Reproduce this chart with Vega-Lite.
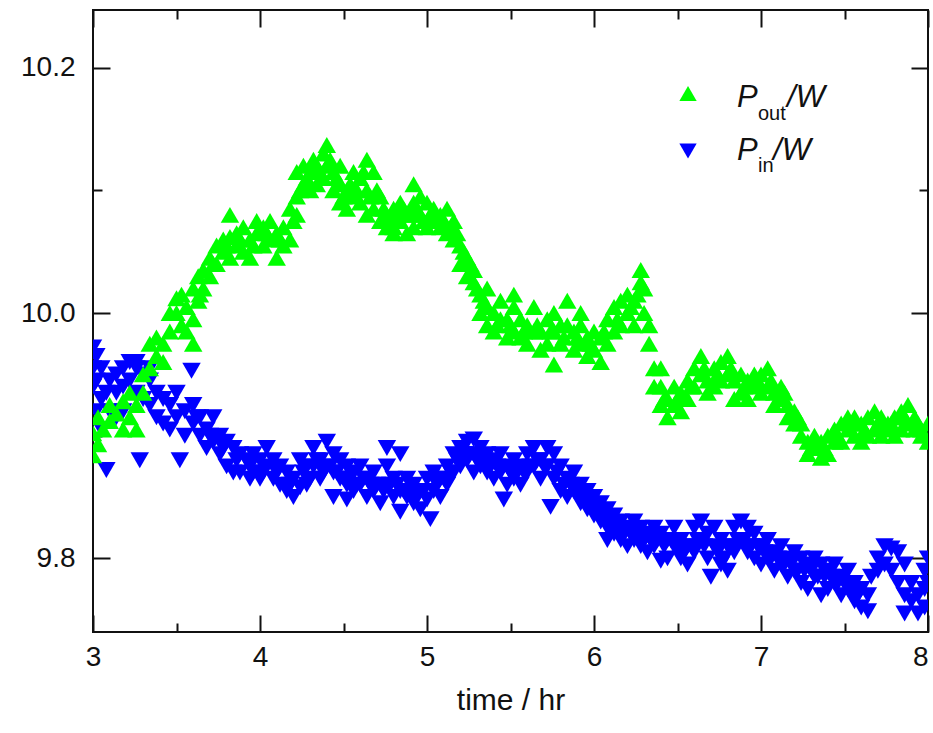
{
  "$schema": "https://vega.github.io/schema/vega-lite/v6.json",
  "width": 835,
  "height": 622,
  "autosize": {"type": "none"},
  "padding": {"left": 93, "top": 10, "right": 5, "bottom": 101},
  "background": "white",
  "config": {
    "view": {"stroke": "#111", "strokeWidth": 2},
    "axis": {"domain": false, "grid": false, "tickColor": "#111", "tickWidth": 2, "labelColor": "#111", "titleColor": "#111", "labelFont": "Liberation Sans", "titleFont": "Liberation Sans"}
  },
  "datasets": {
    "pout": [
      {"t":3.00,"v":9.884},{"t":3.00,"v":9.902},{"t":3.03,"v":9.893},{"t":3.03,"v":9.915},{"t":3.06,"v":9.905},
      {"t":3.10,"v":9.912},{"t":3.10,"v":9.925},{"t":3.14,"v":9.918},{"t":3.18,"v":9.905},{"t":3.18,"v":9.928},
      {"t":3.22,"v":9.915},{"t":3.22,"v":9.935},{"t":3.26,"v":9.905},{"t":3.26,"v":9.925},{"t":3.30,"v":9.935},{"t":3.30,"v":9.95},
      {"t":3.34,"v":9.955},{"t":3.34,"v":9.975},{"t":3.38,"v":9.965},{"t":3.38,"v":9.98},{"t":3.42,"v":9.975},{"t":3.42,"v":9.96},
      {"t":3.46,"v":9.985},{"t":3.46,"v":10.0},{"t":3.50,"v":10.0},{"t":3.50,"v":10.012},{"t":3.53,"v":10.015},{"t":3.53,"v":9.99},
      {"t":3.56,"v":10.005},{"t":3.56,"v":9.985},{"t":3.60,"v":9.975},{"t":3.60,"v":9.995},{"t":3.60,"v":10.02},
      {"t":3.63,"v":10.01},{"t":3.63,"v":10.03},{"t":3.66,"v":10.035},{"t":3.66,"v":10.02},{"t":3.70,"v":10.045},{"t":3.70,"v":10.03},
      {"t":3.74,"v":10.04},{"t":3.74,"v":10.055},{"t":3.78,"v":10.05},{"t":3.78,"v":10.06},{"t":3.82,"v":10.045},{"t":3.82,"v":10.062},{"t":3.82,"v":10.08},
      {"t":3.86,"v":10.055},{"t":3.86,"v":10.065},{"t":3.90,"v":10.05},{"t":3.90,"v":10.07},{"t":3.94,"v":10.06},{"t":3.94,"v":10.045},
      {"t":3.98,"v":10.065},{"t":3.98,"v":10.075},{"t":4.02,"v":10.07},{"t":4.02,"v":10.055},{"t":4.06,"v":10.06},{"t":4.06,"v":10.075},
      {"t":4.10,"v":10.045},{"t":4.10,"v":10.065},{"t":4.14,"v":10.055},{"t":4.14,"v":10.07},{"t":4.18,"v":10.06},{"t":4.18,"v":10.085},
      {"t":4.22,"v":10.08},{"t":4.22,"v":10.095},{"t":4.22,"v":10.115},{"t":4.26,"v":10.105},{"t":4.26,"v":10.12},{"t":4.30,"v":10.115},{"t":4.30,"v":10.1},
      {"t":4.34,"v":10.12},{"t":4.34,"v":10.105},{"t":4.38,"v":10.13},{"t":4.38,"v":10.11},{"t":4.40,"v":10.137},{"t":4.40,"v":10.12},
      {"t":4.44,"v":10.115},{"t":4.44,"v":10.1},{"t":4.48,"v":10.105},{"t":4.48,"v":10.09},{"t":4.48,"v":10.12},{"t":4.52,"v":10.1},{"t":4.52,"v":10.085},
      {"t":4.56,"v":10.095},{"t":4.56,"v":10.115},{"t":4.60,"v":10.11},{"t":4.60,"v":10.09},{"t":4.64,"v":10.125},{"t":4.64,"v":10.1},{"t":4.64,"v":10.08},
      {"t":4.68,"v":10.115},{"t":4.68,"v":10.085},{"t":4.72,"v":10.095},{"t":4.72,"v":10.075},{"t":4.76,"v":10.08},{"t":4.76,"v":10.07},
      {"t":4.80,"v":10.085},{"t":4.80,"v":10.07},{"t":4.80,"v":10.065},{"t":4.84,"v":10.09},{"t":4.84,"v":10.075},{"t":4.88,"v":10.08},{"t":4.88,"v":10.065},
      {"t":4.92,"v":10.105},{"t":4.92,"v":10.09},{"t":4.92,"v":10.07},{"t":4.96,"v":10.095},{"t":4.96,"v":10.08},{"t":5.00,"v":10.09},{"t":5.00,"v":10.07},
      {"t":5.04,"v":10.075},{"t":5.04,"v":10.085},{"t":5.08,"v":10.07},{"t":5.08,"v":10.08},{"t":5.12,"v":10.085},{"t":5.12,"v":10.065},
      {"t":5.16,"v":10.075},{"t":5.16,"v":10.06},{"t":5.20,"v":10.055},{"t":5.20,"v":10.04},{"t":5.24,"v":10.045},{"t":5.24,"v":10.03},
      {"t":5.28,"v":10.025},{"t":5.28,"v":10.035},{"t":5.32,"v":10.015},{"t":5.32,"v":10.0},{"t":5.36,"v":10.005},{"t":5.36,"v":9.99},{"t":5.36,"v":10.02},
      {"t":5.40,"v":10.0},{"t":5.40,"v":9.985},{"t":5.44,"v":10.01},{"t":5.44,"v":9.995},{"t":5.48,"v":9.995},{"t":5.48,"v":9.98},
      {"t":5.52,"v":10.005},{"t":5.52,"v":9.985},{"t":5.52,"v":10.015},{"t":5.56,"v":9.995},{"t":5.56,"v":9.98},{"t":5.60,"v":9.99},{"t":5.60,"v":9.975},
      {"t":5.64,"v":10.005},{"t":5.64,"v":9.985},{"t":5.68,"v":9.985},{"t":5.68,"v":9.97},{"t":5.72,"v":9.995},{"t":5.72,"v":9.975},
      {"t":5.76,"v":10.0},{"t":5.76,"v":9.985},{"t":5.76,"v":9.958},{"t":5.80,"v":9.99},{"t":5.80,"v":9.975},{"t":5.84,"v":10.01},{"t":5.84,"v":9.99},
      {"t":5.88,"v":9.985},{"t":5.88,"v":9.97},{"t":5.92,"v":9.99},{"t":5.92,"v":9.975},{"t":5.92,"v":10.0},{"t":5.96,"v":9.98},{"t":5.96,"v":9.965},
      {"t":6.00,"v":9.985},{"t":6.00,"v":9.97},{"t":6.04,"v":9.98},{"t":6.04,"v":9.96},{"t":6.08,"v":9.995},{"t":6.08,"v":9.975},
      {"t":6.12,"v":10.005},{"t":6.12,"v":9.985},{"t":6.16,"v":10.01},{"t":6.16,"v":9.99},{"t":6.20,"v":10.0},{"t":6.20,"v":10.015},
      {"t":6.24,"v":10.01},{"t":6.24,"v":9.99},{"t":6.28,"v":10.025},{"t":6.28,"v":10.035},{"t":6.30,"v":10.02},{"t":6.30,"v":10.0},
      {"t":6.33,"v":9.99},{"t":6.33,"v":9.975},{"t":6.36,"v":9.955},{"t":6.36,"v":9.94},{"t":6.40,"v":9.94},{"t":6.40,"v":9.925},{"t":6.40,"v":9.955},
      {"t":6.44,"v":9.93},{"t":6.44,"v":9.915},{"t":6.48,"v":9.925},{"t":6.48,"v":9.94},{"t":6.52,"v":9.935},{"t":6.52,"v":9.92},
      {"t":6.56,"v":9.945},{"t":6.56,"v":9.93},{"t":6.60,"v":9.955},{"t":6.60,"v":9.94},{"t":6.64,"v":9.965},{"t":6.64,"v":9.95},
      {"t":6.68,"v":9.945},{"t":6.68,"v":9.935},{"t":6.72,"v":9.955},{"t":6.72,"v":9.94},{"t":6.76,"v":9.96},{"t":6.76,"v":9.945},
      {"t":6.80,"v":9.965},{"t":6.80,"v":9.95},{"t":6.84,"v":9.945},{"t":6.84,"v":9.93},{"t":6.88,"v":9.95},{"t":6.88,"v":9.935},
      {"t":6.92,"v":9.945},{"t":6.92,"v":9.93},{"t":6.96,"v":9.94},{"t":6.96,"v":9.95},{"t":7.00,"v":9.935},{"t":7.00,"v":9.95},
      {"t":7.04,"v":9.955},{"t":7.04,"v":9.94},{"t":7.08,"v":9.935},{"t":7.08,"v":9.925},{"t":7.12,"v":9.93},{"t":7.12,"v":9.94},
      {"t":7.16,"v":9.925},{"t":7.16,"v":9.915},{"t":7.20,"v":9.92},{"t":7.20,"v":9.91},{"t":7.24,"v":9.91},{"t":7.24,"v":9.9},
      {"t":7.28,"v":9.895},{"t":7.28,"v":9.885},{"t":7.32,"v":9.89},{"t":7.32,"v":9.9},{"t":7.36,"v":9.895},{"t":7.36,"v":9.882},
      {"t":7.40,"v":9.885},{"t":7.40,"v":9.9},{"t":7.44,"v":9.895},{"t":7.44,"v":9.905},{"t":7.48,"v":9.91},{"t":7.48,"v":9.895},
      {"t":7.52,"v":9.905},{"t":7.52,"v":9.915},{"t":7.56,"v":9.9},{"t":7.56,"v":9.915},{"t":7.60,"v":9.91},{"t":7.60,"v":9.895},
      {"t":7.64,"v":9.915},{"t":7.64,"v":9.9},{"t":7.68,"v":9.905},{"t":7.68,"v":9.92},{"t":7.72,"v":9.915},{"t":7.72,"v":9.9},
      {"t":7.76,"v":9.905},{"t":7.76,"v":9.91},{"t":7.80,"v":9.915},{"t":7.80,"v":9.9},{"t":7.84,"v":9.905},{"t":7.84,"v":9.92},
      {"t":7.88,"v":9.91},{"t":7.88,"v":9.925},{"t":7.92,"v":9.915},{"t":7.92,"v":9.905},{"t":7.96,"v":9.905},{"t":7.96,"v":9.9},
      {"t":8.00,"v":9.895},{"t":8.00,"v":9.91},
      {"t":3.64,"v":10.015},{"t":3.72,"v":10.04},{"t":3.80,"v":10.055},{"t":3.88,"v":10.06},{"t":3.96,"v":10.055},{"t":4.04,"v":10.065},
      {"t":4.12,"v":10.06},{"t":4.20,"v":10.075},{"t":4.24,"v":10.1},{"t":4.28,"v":10.11},{"t":4.32,"v":10.125},{"t":4.36,"v":10.115},
      {"t":4.42,"v":10.125},{"t":4.46,"v":10.11},{"t":4.50,"v":10.095},{"t":4.54,"v":10.105},{"t":4.58,"v":10.1},{"t":4.62,"v":10.115},
      {"t":4.66,"v":10.095},{"t":4.70,"v":10.1},{"t":4.74,"v":10.085},{"t":4.78,"v":10.075},{"t":4.82,"v":10.08},{"t":4.86,"v":10.085},
      {"t":4.90,"v":10.08},{"t":4.94,"v":10.085},{"t":4.98,"v":10.075},{"t":5.02,"v":10.08},{"t":5.06,"v":10.075},{"t":5.10,"v":10.075},
      {"t":5.14,"v":10.07},{"t":5.18,"v":10.065},{"t":5.22,"v":10.05},{"t":5.26,"v":10.04},{"t":5.30,"v":10.02},{"t":5.34,"v":10.01},
      {"t":5.42,"v":9.99},{"t":5.50,"v":9.99},{"t":5.58,"v":9.985},{"t":5.66,"v":9.99},{"t":5.74,"v":9.985},{"t":5.82,"v":9.98},
      {"t":5.90,"v":9.98},{"t":5.98,"v":9.975},{"t":6.06,"v":9.985},{"t":6.14,"v":9.995},{"t":6.22,"v":10.005},{"t":6.26,"v":10.015},
      {"t":6.42,"v":9.93},{"t":6.50,"v":9.93},{"t":6.58,"v":9.94},{"t":6.66,"v":9.955},{"t":6.74,"v":9.95},{"t":6.82,"v":9.955},
      {"t":6.90,"v":9.94},{"t":6.98,"v":9.945},{"t":7.06,"v":9.945},{"t":7.14,"v":9.935},{"t":7.22,"v":9.915},{"t":7.30,"v":9.89},
      {"t":7.38,"v":9.89},{"t":7.46,"v":9.9},{"t":7.54,"v":9.91},{"t":7.62,"v":9.905},{"t":7.70,"v":9.91},{"t":7.78,"v":9.91},
      {"t":7.86,"v":9.915},{"t":7.94,"v":9.91}
    ],
    "pin": [
      {"t":3.00,"v":9.972},{"t":3.00,"v":9.955},{"t":3.00,"v":9.94},{"t":3.02,"v":9.965},{"t":3.02,"v":9.945},{"t":3.02,"v":9.92},
      {"t":3.05,"v":9.955},{"t":3.05,"v":9.93},{"t":3.05,"v":9.905},{"t":3.08,"v":9.872},{"t":3.08,"v":9.935},
      {"t":3.10,"v":9.92},{"t":3.10,"v":9.945},{"t":3.14,"v":9.935},{"t":3.14,"v":9.95},{"t":3.14,"v":9.915},
      {"t":3.18,"v":9.955},{"t":3.18,"v":9.94},{"t":3.18,"v":9.92},{"t":3.22,"v":9.96},{"t":3.22,"v":9.945},
      {"t":3.26,"v":9.955},{"t":3.26,"v":9.935},{"t":3.26,"v":9.96},{"t":3.28,"v":9.88},{"t":3.30,"v":9.95},{"t":3.30,"v":9.93},
      {"t":3.34,"v":9.945},{"t":3.34,"v":9.925},{"t":3.34,"v":9.955},{"t":3.38,"v":9.935},{"t":3.38,"v":9.915},
      {"t":3.42,"v":9.93},{"t":3.42,"v":9.91},{"t":3.46,"v":9.925},{"t":3.46,"v":9.905},{"t":3.50,"v":9.915},{"t":3.50,"v":9.935},
      {"t":3.52,"v":9.88},{"t":3.59,"v":9.953},{"t":3.55,"v":9.92},{"t":3.55,"v":9.9},{"t":3.60,"v":9.91},{"t":3.60,"v":9.925},
      {"t":3.64,"v":9.915},{"t":3.64,"v":9.9},{"t":3.68,"v":9.905},{"t":3.68,"v":9.89},{"t":3.72,"v":9.915},{"t":3.72,"v":9.895},
      {"t":3.76,"v":9.9},{"t":3.76,"v":9.885},{"t":3.80,"v":9.895},{"t":3.80,"v":9.875},{"t":3.84,"v":9.89},{"t":3.84,"v":9.87},
      {"t":3.88,"v":9.885},{"t":3.88,"v":9.87},{"t":3.92,"v":9.88},{"t":3.94,"v":9.865},{"t":3.96,"v":9.885},{"t":3.96,"v":9.87},
      {"t":4.00,"v":9.88},{"t":4.00,"v":9.865},{"t":4.04,"v":9.875},{"t":4.04,"v":9.89},{"t":4.08,"v":9.865},{"t":4.08,"v":9.88},
      {"t":4.12,"v":9.875},{"t":4.12,"v":9.86},{"t":4.16,"v":9.87},{"t":4.16,"v":9.855},{"t":4.20,"v":9.865},{"t":4.20,"v":9.85},
      {"t":4.24,"v":9.88},{"t":4.24,"v":9.858},{"t":4.28,"v":9.875},{"t":4.28,"v":9.86},{"t":4.32,"v":9.89},{"t":4.32,"v":9.875},
      {"t":4.36,"v":9.88},{"t":4.36,"v":9.865},{"t":4.40,"v":9.895},{"t":4.40,"v":9.875},{"t":4.44,"v":9.885},{"t":4.44,"v":9.87},{"t":4.44,"v":9.85},
      {"t":4.48,"v":9.88},{"t":4.48,"v":9.865},{"t":4.52,"v":9.875},{"t":4.52,"v":9.86},{"t":4.52,"v":9.848},{"t":4.56,"v":9.87},{"t":4.56,"v":9.855},
      {"t":4.60,"v":9.875},{"t":4.60,"v":9.86},{"t":4.64,"v":9.865},{"t":4.64,"v":9.85},{"t":4.68,"v":9.87},{"t":4.68,"v":9.855},
      {"t":4.72,"v":9.86},{"t":4.72,"v":9.845},{"t":4.76,"v":9.875},{"t":4.76,"v":9.89},{"t":4.80,"v":9.865},{"t":4.80,"v":9.85},
      {"t":4.84,"v":9.855},{"t":4.84,"v":9.838},{"t":4.84,"v":9.885},{"t":4.88,"v":9.865},{"t":4.88,"v":9.85},{"t":4.92,"v":9.86},{"t":4.92,"v":9.845},
      {"t":4.96,"v":9.855},{"t":4.96,"v":9.84},{"t":5.00,"v":9.865},{"t":5.00,"v":9.848},{"t":5.02,"v":9.832},{"t":5.04,"v":9.855},{"t":5.04,"v":9.87},
      {"t":5.08,"v":9.865},{"t":5.08,"v":9.85},{"t":5.12,"v":9.875},{"t":5.12,"v":9.86},{"t":5.16,"v":9.885},{"t":5.16,"v":9.87},
      {"t":5.20,"v":9.89},{"t":5.20,"v":9.875},{"t":5.24,"v":9.895},{"t":5.24,"v":9.88},{"t":5.28,"v":9.897},{"t":5.28,"v":9.885},{"t":5.28,"v":9.87},
      {"t":5.32,"v":9.89},{"t":5.32,"v":9.875},{"t":5.36,"v":9.885},{"t":5.36,"v":9.87},{"t":5.40,"v":9.88},{"t":5.40,"v":9.865},
      {"t":5.44,"v":9.885},{"t":5.44,"v":9.87},{"t":5.46,"v":9.848},{"t":5.48,"v":9.875},{"t":5.48,"v":9.86},{"t":5.52,"v":9.88},{"t":5.52,"v":9.865},
      {"t":5.56,"v":9.875},{"t":5.56,"v":9.86},{"t":5.60,"v":9.885},{"t":5.60,"v":9.87},{"t":5.64,"v":9.89},{"t":5.64,"v":9.875},
      {"t":5.68,"v":9.88},{"t":5.68,"v":9.865},{"t":5.72,"v":9.89},{"t":5.72,"v":9.875},{"t":5.74,"v":9.842},{"t":5.76,"v":9.885},{"t":5.76,"v":9.865},
      {"t":5.80,"v":9.875},{"t":5.80,"v":9.855},{"t":5.84,"v":9.865},{"t":5.84,"v":9.85},{"t":5.88,"v":9.87},{"t":5.88,"v":9.855},
      {"t":5.92,"v":9.86},{"t":5.92,"v":9.845},{"t":5.96,"v":9.855},{"t":5.96,"v":9.84},{"t":6.00,"v":9.85},{"t":6.00,"v":9.835},
      {"t":6.04,"v":9.845},{"t":6.04,"v":9.83},{"t":6.08,"v":9.84},{"t":6.08,"v":9.825},{"t":6.08,"v":9.815},{"t":6.12,"v":9.835},{"t":6.12,"v":9.82},
      {"t":6.16,"v":9.83},{"t":6.16,"v":9.815},{"t":6.20,"v":9.825},{"t":6.20,"v":9.81},{"t":6.24,"v":9.83},{"t":6.24,"v":9.815},
      {"t":6.28,"v":9.825},{"t":6.28,"v":9.81},{"t":6.32,"v":9.82},{"t":6.32,"v":9.805},{"t":6.36,"v":9.825},{"t":6.36,"v":9.81},{"t":6.40,"v":9.798},
      {"t":6.40,"v":9.82},{"t":6.44,"v":9.815},{"t":6.44,"v":9.8},{"t":6.48,"v":9.825},{"t":6.48,"v":9.81},{"t":6.52,"v":9.815},{"t":6.52,"v":9.8},
      {"t":6.56,"v":9.81},{"t":6.56,"v":9.795},{"t":6.60,"v":9.825},{"t":6.60,"v":9.805},{"t":6.64,"v":9.83},{"t":6.64,"v":9.815},
      {"t":6.68,"v":9.82},{"t":6.68,"v":9.8},{"t":6.70,"v":9.785},{"t":6.72,"v":9.825},{"t":6.72,"v":9.81},{"t":6.76,"v":9.815},{"t":6.76,"v":9.795},
      {"t":6.80,"v":9.81},{"t":6.80,"v":9.79},{"t":6.84,"v":9.825},{"t":6.84,"v":9.805},{"t":6.88,"v":9.83},{"t":6.88,"v":9.815},
      {"t":6.92,"v":9.825},{"t":6.92,"v":9.805},{"t":6.96,"v":9.82},{"t":6.96,"v":9.8},{"t":7.00,"v":9.81},{"t":7.00,"v":9.795},
      {"t":7.04,"v":9.815},{"t":7.04,"v":9.8},{"t":7.08,"v":9.805},{"t":7.08,"v":9.79},{"t":7.12,"v":9.81},{"t":7.12,"v":9.795},
      {"t":7.16,"v":9.8},{"t":7.16,"v":9.785},{"t":7.20,"v":9.805},{"t":7.20,"v":9.79},{"t":7.24,"v":9.8},{"t":7.24,"v":9.78},
      {"t":7.28,"v":9.795},{"t":7.28,"v":9.775},{"t":7.32,"v":9.8},{"t":7.32,"v":9.785},{"t":7.36,"v":9.795},{"t":7.36,"v":9.77},
      {"t":7.40,"v":9.79},{"t":7.40,"v":9.775},{"t":7.44,"v":9.795},{"t":7.44,"v":9.78},{"t":7.48,"v":9.785},{"t":7.48,"v":9.77},
      {"t":7.52,"v":9.79},{"t":7.52,"v":9.775},{"t":7.56,"v":9.78},{"t":7.56,"v":9.765},{"t":7.60,"v":9.775},{"t":7.60,"v":9.76},
      {"t":7.64,"v":9.77},{"t":7.64,"v":9.757},{"t":7.66,"v":9.785},{"t":7.70,"v":9.8},{"t":7.70,"v":9.79},{"t":7.74,"v":9.81},{"t":7.74,"v":9.795},
      {"t":7.78,"v":9.808},{"t":7.78,"v":9.79},{"t":7.82,"v":9.805},{"t":7.82,"v":9.78},{"t":7.86,"v":9.795},{"t":7.86,"v":9.77},{"t":7.86,"v":9.755},
      {"t":7.90,"v":9.78},{"t":7.90,"v":9.765},{"t":7.94,"v":9.77},{"t":7.94,"v":9.755},{"t":7.98,"v":9.79},{"t":7.98,"v":9.775},{"t":7.98,"v":9.76},
      {"t":8.00,"v":9.8},{"t":8.00,"v":9.78},
      {"t":3.62,"v":9.915},{"t":3.70,"v":9.9},{"t":3.78,"v":9.89},{"t":3.86,"v":9.88},{"t":3.94,"v":9.875},{"t":4.02,"v":9.87},
      {"t":4.10,"v":9.87},{"t":4.18,"v":9.86},{"t":4.26,"v":9.87},{"t":4.30,"v":9.865},{"t":4.34,"v":9.88},{"t":4.38,"v":9.87},
      {"t":4.42,"v":9.875},{"t":4.46,"v":9.87},{"t":4.50,"v":9.865},{"t":4.54,"v":9.865},{"t":4.58,"v":9.86},{"t":4.62,"v":9.865},
      {"t":4.66,"v":9.86},{"t":4.70,"v":9.86},{"t":4.74,"v":9.855},{"t":4.78,"v":9.86},{"t":4.82,"v":9.86},{"t":4.86,"v":9.855},
      {"t":4.90,"v":9.855},{"t":4.94,"v":9.85},{"t":4.98,"v":9.855},{"t":5.06,"v":9.86},{"t":5.10,"v":9.865},{"t":5.14,"v":9.87},
      {"t":5.18,"v":9.88},{"t":5.22,"v":9.885},{"t":5.26,"v":9.885},{"t":5.30,"v":9.88},{"t":5.34,"v":9.88},{"t":5.38,"v":9.875},
      {"t":5.42,"v":9.875},{"t":5.50,"v":9.87},{"t":5.54,"v":9.87},{"t":5.58,"v":9.87},{"t":5.62,"v":9.875},{"t":5.66,"v":9.88},
      {"t":5.70,"v":9.875},{"t":5.78,"v":9.87},{"t":5.82,"v":9.86},{"t":5.86,"v":9.86},{"t":5.90,"v":9.855},{"t":5.94,"v":9.85},
      {"t":5.98,"v":9.845},{"t":6.02,"v":9.84},{"t":6.06,"v":9.835},{"t":6.10,"v":9.83},{"t":6.14,"v":9.825},{"t":6.18,"v":9.82},
      {"t":6.22,"v":9.82},{"t":6.26,"v":9.82},{"t":6.30,"v":9.815},{"t":6.34,"v":9.815},{"t":6.38,"v":9.815},{"t":6.42,"v":9.81},
      {"t":6.46,"v":9.815},{"t":6.50,"v":9.81},{"t":6.54,"v":9.805},{"t":6.58,"v":9.81},{"t":6.62,"v":9.815},{"t":6.66,"v":9.81},
      {"t":6.74,"v":9.805},{"t":6.78,"v":9.8},{"t":6.82,"v":9.81},{"t":6.86,"v":9.815},{"t":6.90,"v":9.815},{"t":6.94,"v":9.81},
      {"t":6.98,"v":9.81},{"t":7.02,"v":9.805},{"t":7.06,"v":9.8},{"t":7.10,"v":9.8},{"t":7.14,"v":9.795},{"t":7.18,"v":9.795},
      {"t":7.22,"v":9.79},{"t":7.26,"v":9.79},{"t":7.30,"v":9.79},{"t":7.34,"v":9.785},{"t":7.38,"v":9.785},{"t":7.42,"v":9.785},
      {"t":7.46,"v":9.78},{"t":7.50,"v":9.78},{"t":7.54,"v":9.775},{"t":7.58,"v":9.77}
    ],
    "legsym": [
      {"s":"out","t":6.563,"v":10.179},
      {"s":"in","t":6.563,"v":10.132}
    ],
    "legbig": [
      {"t":6.856,"v":10.168,"txt":"P"},
      {"t":7.156,"v":10.168,"txt":"/W"},
      {"t":6.856,"v":10.125,"txt":"P"},
      {"t":7.072,"v":10.125,"txt":"/W"}
    ],
    "legsmall": [
      {"t":6.982,"v":10.1576,"txt":"out"},
      {"t":6.982,"v":10.1151,"txt":"in"}
    ]
  },
  "resolve": {"axis": {"x": "independent", "y": "independent"}},
  "layer": [
    {
      "data": {"name": "pin"},
      "mark": {"type": "point", "shape": "triangle-down", "filled": true, "size": 340, "color": "#0000FF", "opacity": 1, "clip": true},
      "encoding": {
        "x": {"field": "t", "type": "quantitative", "scale": {"domain": [3, 8], "nice": false, "zero": false},
          "axis": {"orient": "bottom", "values": [3, 4, 5, 6, 7, 8], "tickSize": -17, "labelPadding": 28, "labelFontSize": 28, "title": "time / hr", "titleFontSize": 30, "titleFontWeight": "normal", "titlePadding": 14, "labelFlush": false,
            "labelAlign": {"expr": "datum.value == 8 ? 'right' : 'center'"}}},
        "y": {"field": "v", "type": "quantitative", "scale": {"domain": [9.74, 10.247], "nice": false, "zero": false},
          "axis": {"orient": "left", "values": [9.8, 10.0, 10.2], "format": ".1f", "tickSize": -17, "labelPadding": 35, "labelFontSize": 28, "title": null}}
      }
    },
    {
      "data": {"name": "pout"},
      "mark": {"type": "point", "shape": "triangle-up", "filled": true, "size": 340, "color": "#00FF00", "opacity": 1, "clip": true},
      "encoding": {
        "x": {"field": "t", "type": "quantitative", "axis": {"orient": "top", "values": [3, 4, 5, 6, 7, 8], "tickSize": -17, "labels": false, "title": null}},
        "y": {"field": "v", "type": "quantitative", "axis": {"orient": "right", "values": [9.8, 10.0, 10.2], "tickSize": -17, "labels": false, "title": null}}
      }
    },
    {
      "data": {"name": "legsym"},
      "mark": {"type": "point", "filled": true, "size": 300, "opacity": 1},
      "encoding": {
        "x": {"field": "t", "type": "quantitative", "axis": {"orient": "bottom", "values": [3.5, 4.5, 5.5, 6.5, 7.5], "tickSize": -9, "labels": false, "title": null}},
        "y": {"field": "v", "type": "quantitative", "axis": {"orient": "left", "values": [9.9, 10.1], "tickSize": -9, "labels": false, "title": null}},
        "shape": {"field": "s", "type": "nominal", "scale": {"domain": ["out", "in"], "range": ["triangle-up", "triangle-down"]}, "legend": null},
        "color": {"field": "s", "type": "nominal", "scale": {"domain": ["out", "in"], "range": ["#00FF00", "#0000FF"]}, "legend": null}
      }
    },
    {
      "data": {"name": "legbig"},
      "mark": {"type": "text", "font": "Liberation Sans", "fontStyle": "italic", "fontSize": 31, "align": "left", "baseline": "alphabetic", "color": "#111"},
      "encoding": {
        "x": {"field": "t", "type": "quantitative", "axis": {"orient": "top", "values": [3.5, 4.5, 5.5, 6.5, 7.5], "tickSize": -9, "labels": false, "title": null}},
        "y": {"field": "v", "type": "quantitative", "axis": {"orient": "right", "values": [9.9, 10.1], "tickSize": -9, "labels": false, "title": null}},
        "text": {"field": "txt"}
      }
    },
    {
      "data": {"name": "legsmall"},
      "mark": {"type": "text", "font": "Liberation Sans", "fontSize": 20, "align": "left", "baseline": "alphabetic", "color": "#111"},
      "encoding": {
        "x": {"field": "t", "type": "quantitative", "axis": null},
        "y": {"field": "v", "type": "quantitative", "axis": null},
        "text": {"field": "txt"}
      }
    }
  ]
}
